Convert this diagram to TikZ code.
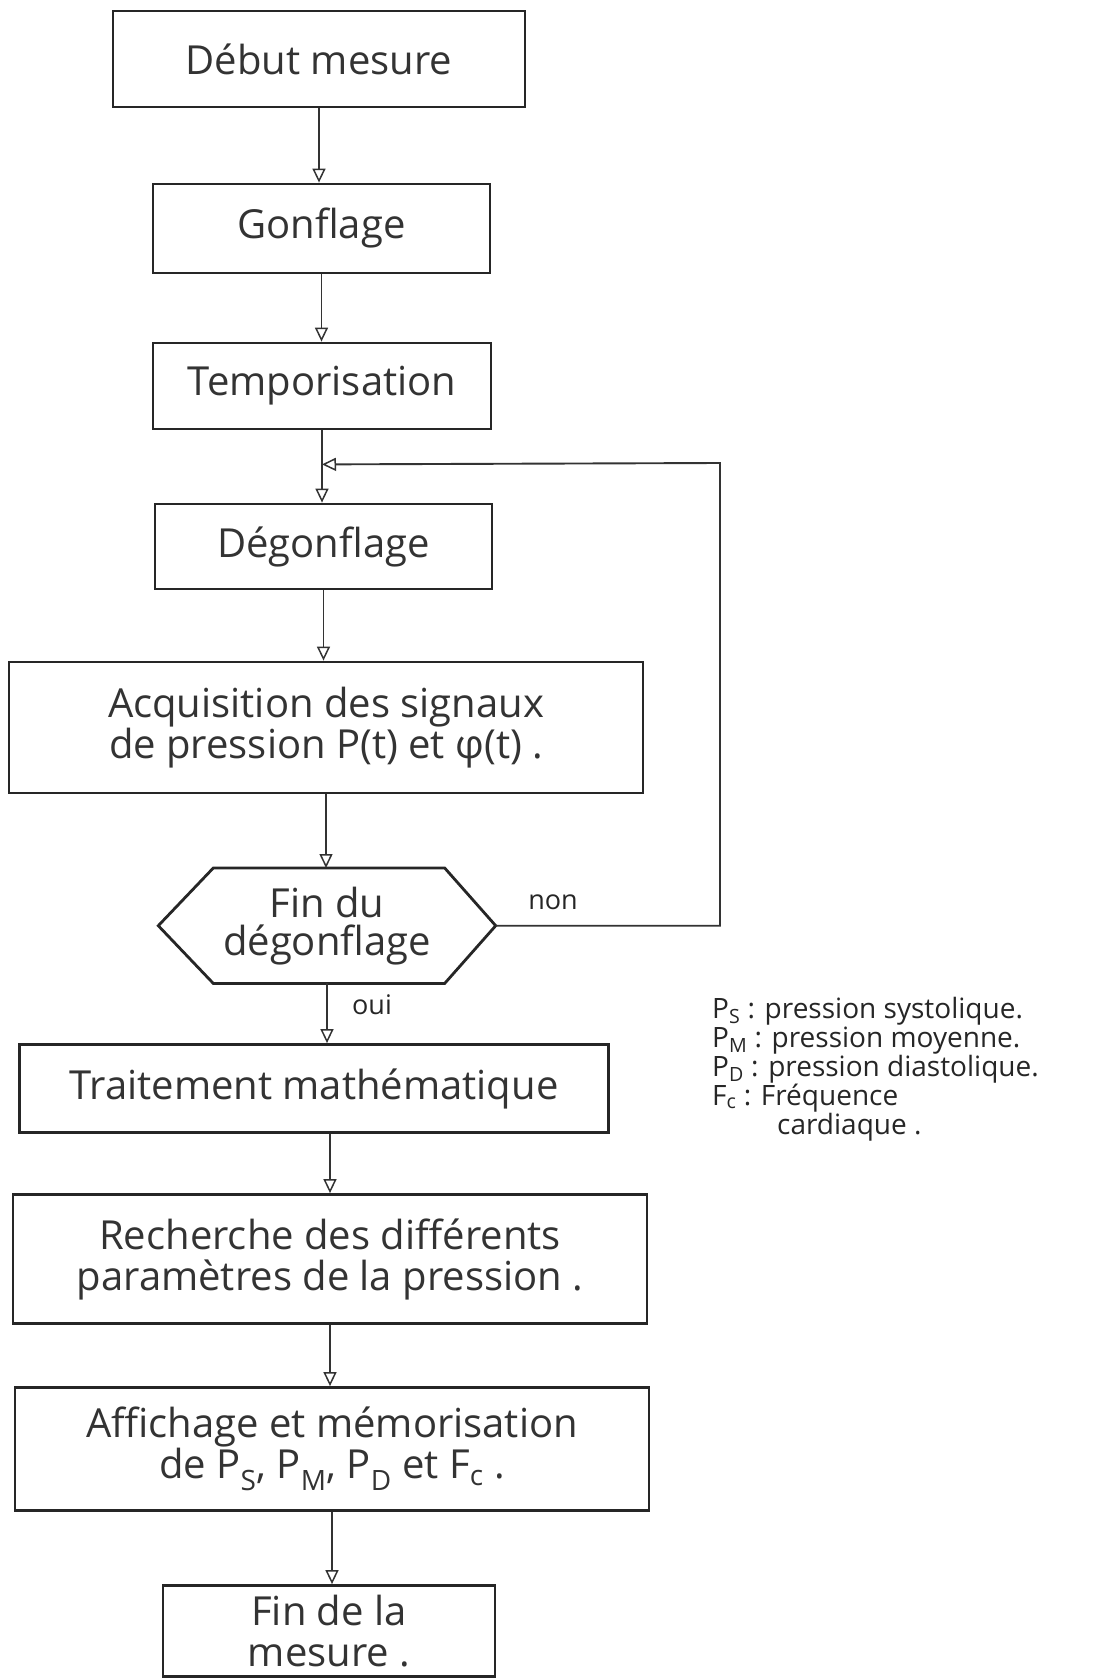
\documentclass[tikz,border=0pt]{standalone}
\usepackage{fontspec}
\setmainfont{Open Sans}
\usetikzlibrary{arrows.meta}
\begin{document}
\begin{tikzpicture}[x=1pt,y=-1pt,
  box/.style={draw=black!85, line width=2.8pt, rectangle, align=center, inner sep=0pt,
    font=\fontsize{40}{41}\selectfont, text=black!80},
  hexa/.style={draw=black!85, line width=2.8pt, line join=miter},
  arr/.style={draw=black!80, line width=1.9pt,
    -{Triangle[open, length=14pt, width=13pt, line width=1.5pt]}},
  lbl/.style={font=\fontsize{27}{29}\selectfont, text=black!85, inner sep=0pt},
  leg/.style={font=\fontsize{28}{30}\selectfont, text=black!85, inner sep=0pt},
]
\useasboundingbox[fill=white] (0,0) rectangle (1110,1680);

% process boxes
\node[box, minimum width=412pt, minimum height=96pt] (b1) at (319,59) {Début mesure};
\node[box, minimum width=337pt, minimum height=89pt] (b2) at (321.5,228.5) {Gonflage};
\node[box, minimum width=338pt, minimum height=86pt] (b3) at (322,386) {Temporisation};
\node[box, minimum width=337pt, minimum height=85pt] (b4) at (323.5,546.5) {Dégonflage};
\node[box, minimum width=634pt, minimum height=131pt] (b5) at (326,727.5)
  {Acquisition des signaux\\de pression P(t) et φ(t) .};

% decision (hexagon)
\node[align=center, inner sep=0pt, minimum width=337pt, minimum height=115pt,
  font=\fontsize{40}{38}\selectfont, text=black!80] (h) at (327,925.7) {Fin du\\dégonflage};
\draw[hexa] (h.west) -- ([xshift=55pt]h.north west) -- ([xshift=-51pt]h.north east)
  -- (h.east) -- ([xshift=-51pt]h.south east) -- ([xshift=55pt]h.south west) -- cycle;

\node[box, minimum width=589pt, minimum height=88pt] (b7) at (314,1088.5) {Traitement mathématique};
\node[box, minimum width=634pt, minimum height=129pt] (b8) at (330,1259)
  {Recherche des différents\\paramètres de la pression .};
\node[box, minimum width=634pt, minimum height=123pt] (b9) at (332,1449)
  {Affichage et mémorisation\\de P\textsubscript{S}, P\textsubscript{M}, P\textsubscript{D} et F\textsubscript{c} .};
\node[box, minimum width=332pt, minimum height=91pt] (b10) at (329,1631) {Fin de la\\mesure .};

% main flow
\draw[arr] (b1.south) -- (b1.south |- b2.north);
\draw[arr] (b2.south) -- (b2.south |- b3.north);
\draw[arr] (b3.south) -- (b3.south |- b4.north);
\draw[arr] (b4.south) -- (b4.south |- b5.north);
\draw[arr] (b5.south) -- (b5.south |- h.north);
\draw[arr] (h.south) -- (h.south |- b7.north);
\draw[arr] (b8.north |- b7.south) -- (b8.north);
\draw[arr] (b8.south) -- (b8.south |- b9.north);
\draw[arr] (b9.south) -- (b9.south |- b10.north);

% return loop when deflation is not finished
\path (b3.south) ++(0,34) coordinate (j);
\coordinate (rc) at (720,463);
\draw[arr] (h.east) -| (rc) -- (j);

\node[lbl] (non) at (553,902) {non};
\node[lbl] (oui) at (372,1005) {oui};

% legend
\node[leg, anchor=base west] (l1) at (712,1018) {P\textsubscript{S} : pression systolique.};
\node[leg, anchor=base west] (l2) at (712,1047) {P\textsubscript{M} : pression moyenne.};
\node[leg, anchor=base west] (l3) at (712,1076) {P\textsubscript{D} : pression diastolique.};
\node[leg, anchor=base west] (l4) at (712,1105) {F\textsubscript{c} : Fréquence};
\node[leg, anchor=base west] (l5) at (777,1134) {cardiaque .};
\end{tikzpicture}
\end{document}
